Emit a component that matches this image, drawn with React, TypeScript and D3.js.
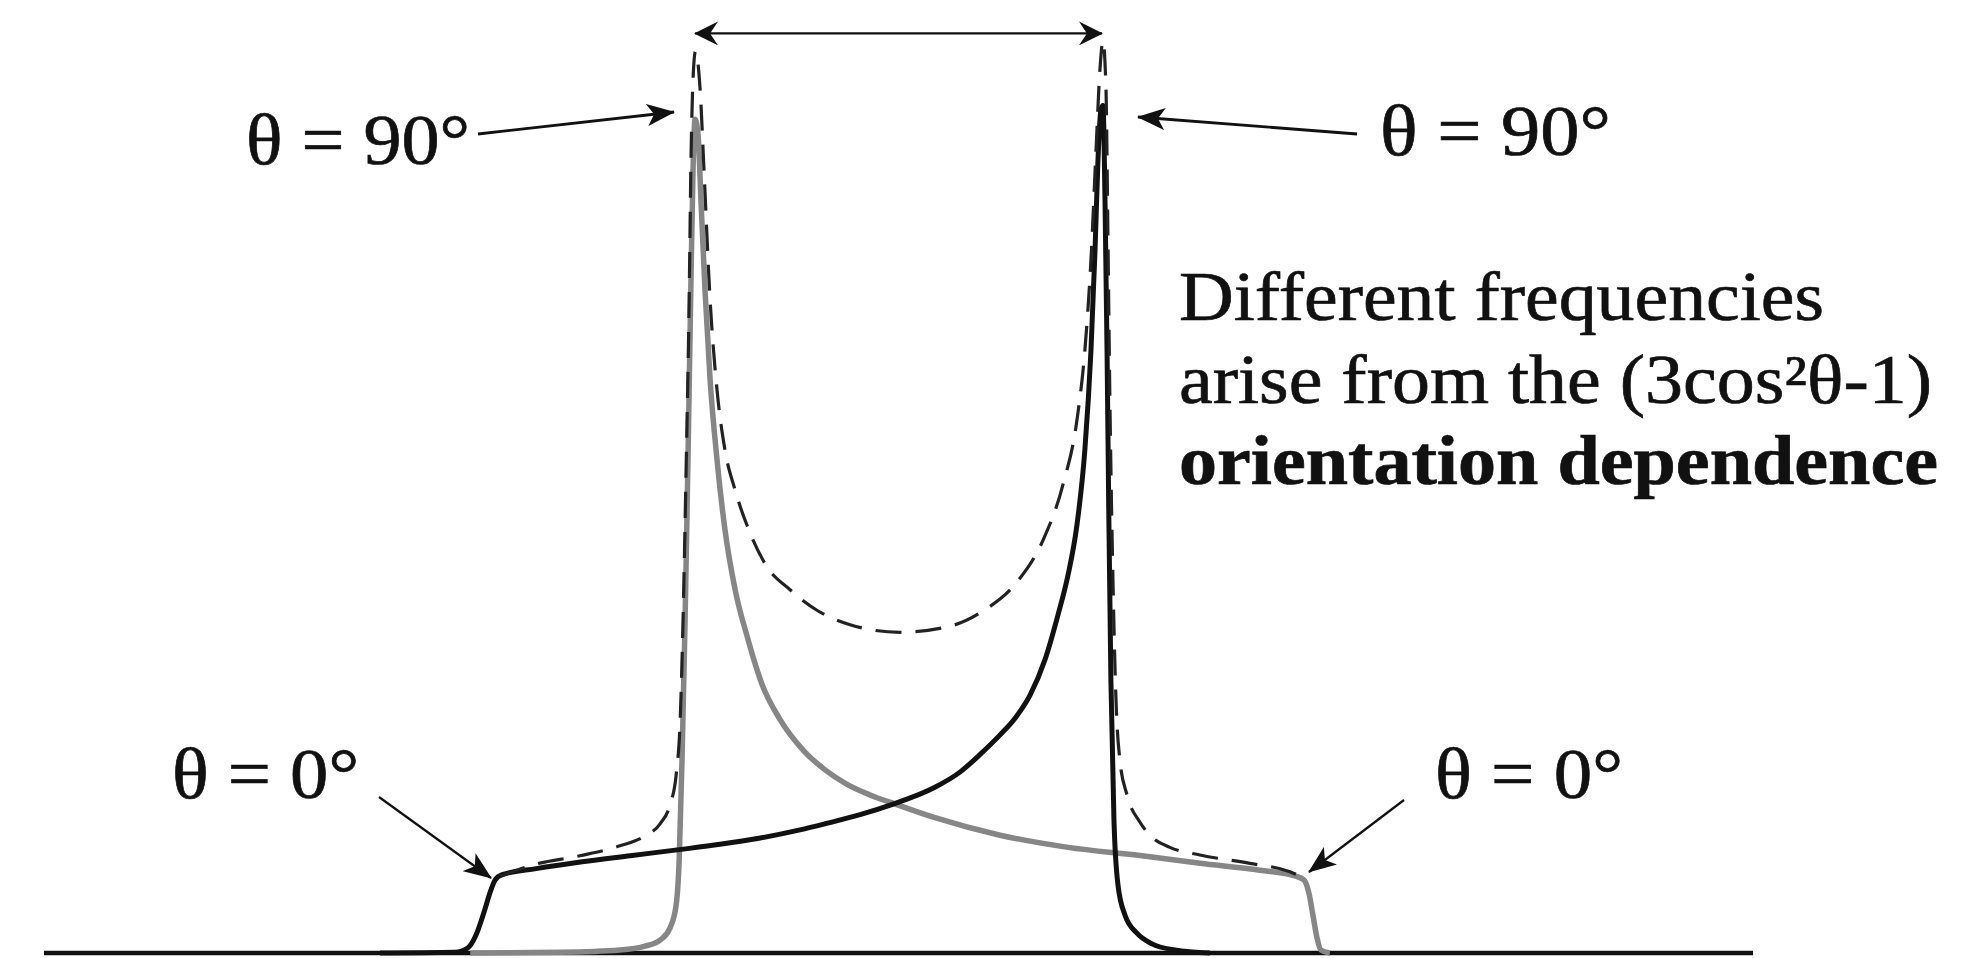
import React from "react";
import * as d3 from "d3";

const W = 1967;
const H = 958;

// Frequency axis: units of the θ = 90° half-splitting (peaks at ±1).
// Intensity: relative to the θ = 0° step height.

// Black powder pattern (θ = 0° edge on the left, θ = 90° horn on the right)
const blackFreq = [-2.548, -2.18, -2.116, -2.076, -2.037, -2.007, -1.983, -1.948, -1.781, -1.555, -1.319, -1.078, -0.877, -0.686, -0.484, -0.361, -0.189, -0.037, 0.179, 0.302, 0.4, 0.499, 0.573, 0.646, 0.72, 0.784, 0.833, 0.877, 0.916, 0.946, 0.966, 0.98, 0.995, 1.005, 1.015, 1.025, 1.034, 1.044, 1.059, 1.079, 1.113, 1.172, 1.246, 1.359, 1.531];
const blackInt = [0, 0.01, 0.07, 0.24, 0.54, 0.8, 0.96, 1.03, 1.11, 1.2, 1.28, 1.36, 1.43, 1.51, 1.62, 1.7, 1.82, 1.95, 2.18, 2.38, 2.61, 2.87, 3.09, 3.39, 3.86, 4.45, 4.97, 5.63, 6.62, 7.93, 9.25, 10.4, 11.1, 11.15, 9.91, 7.93, 5.7, 3.59, 1.75, 0.89, 0.5, 0.26, 0.12, 0.04, 0];

// Grey powder pattern (θ = 90° horn on the left, θ = 0° edge on the right)
const greyFreq = [-2.105, -1.663, -1.369, -1.246, -1.172, -1.123, -1.093, -1.078, -1.064, -1.049, -1.034, -1.02, -1.01, -1.0, -0.985, -0.971, -0.951, -0.926, -0.892, -0.853, -0.803, -0.739, -0.67, -0.582, -0.469, -0.361, -0.253, -0.14, -0.017, 0.179, 0.499, 0.833, 1.197, 1.482, 1.776, 1.953, 1.993, 2.017, 2.037, 2.057, 2.076, 2.12];
const greyInt = [0, 0.01, 0.04, 0.09, 0.17, 0.33, 0.63, 1.22, 2.54, 4.38, 6.62, 8.86, 10.3, 10.97, 10.76, 9.91, 8.72, 7.54, 6.49, 5.57, 4.78, 4.12, 3.53, 3.07, 2.67, 2.41, 2.22, 2.08, 1.96, 1.78, 1.55, 1.39, 1.28, 1.18, 1.09, 1.01, 0.96, 0.79, 0.5, 0.2, 0.04, 0];

// Dashed total spectrum
const sumFreq = [-1.958, -1.781, -1.565, -1.369, -1.246, -1.172, -1.123, -1.093, -1.073, -1.059, -1.044, -1.029, -1.02, -1.01, -0.998, -0.975, -0.956, -0.926, -0.892, -0.853, -0.803, -0.73, -0.646, -0.533, -0.401, -0.238, 0.007, 0.253, 0.415, 0.582, 0.71, 0.808, 0.877, 0.916, 0.946, 0.971, 0.99, 1.005, 1.02, 1.029, 1.039, 1.054, 1.069, 1.088, 1.123, 1.187, 1.236, 1.334, 1.482, 1.727, 1.924, 1.983];
const sumInt = [1.01, 1.17, 1.28, 1.41, 1.54, 1.7, 1.95, 2.34, 3.07, 4.38, 6.36, 8.59, 10.43, 11.49, 11.86, 11.36, 10.3, 8.59, 7.41, 6.62, 6.09, 5.53, 5.08, 4.78, 4.51, 4.32, 4.22, 4.3, 4.5, 4.88, 5.43, 6.16, 7.01, 7.93, 9.12, 10.57, 11.62, 12.0, 11.36, 9.51, 7.28, 4.91, 3.33, 2.54, 2.08, 1.72, 1.55, 1.39, 1.29, 1.18, 1.07, 1.0];

const xDomain = [-4.2, 4.2];
const yDomain = [0, 12.5];
const splitting = [-1, 1];
const splittingLevel = 12.1;

const label90 = "θ = 90°";
const label0 = "θ = 0°";
const noteLines = ["Different frequencies", "arise from the (3cos²θ-1)", "orientation dependence"];

const zip = (xs: number[], ys: number[]) => xs.map((x, i) => [x, ys[i]] as [number, number]);

export default function App() {
  React.useEffect(() => {
    document.body.style.margin = "0";
    document.body.style.overflow = "hidden";
  }, []);

  const x = d3.scaleLinear().domain(xDomain).range([44, 1753]);
  const y = d3.scaleLinear().domain(yDomain).range([953, 3]);
  const line = d3
    .line<[number, number]>()
    .x((d) => x(d[0]))
    .y((d) => y(d[1]))
    .curve(d3.curveMonotoneX);

  const blackPath = line(zip(blackFreq, blackInt)) || "";
  const greyPath = line(zip(greyFreq, greyInt)) || "";
  const sumPath = line(zip(sumFreq, sumInt)) || "";

  const font = "'Liberation Serif', 'Times New Roman', serif";
  const textProps = { fontFamily: font, fill: "#111", stroke: "#111", strokeWidth: 0.7, lengthAdjust: "spacingAndGlyphs" } as const;

  return (
    <svg width={W} height={H} style={{ position: "absolute", left: 0, top: 0, background: "#fff" }}>
      <defs>
        <marker id="ah" viewBox="0 0 28 22" refX="27" refY="11" markerWidth="28" markerHeight="22" markerUnits="userSpaceOnUse" orient="auto-start-reverse">
          <path d="M0,0 L28,11 L0,22 L7,11 Z" fill="#111" />
        </marker>
        <marker id="ah2" viewBox="0 0 24 24" refX="23" refY="12" markerWidth="24" markerHeight="24" markerUnits="userSpaceOnUse" orient="auto-start-reverse">
          <path d="M0,0 L24,12 L0,24 L8,12 Z" fill="#111" />
        </marker>
      </defs>

      {/* baseline */}
      <line x1={x(xDomain[0])} x2={x(xDomain[1])} y1={y(0)} y2={y(0)} stroke="#111" strokeWidth={4.5} />

      <path d={greyPath} fill="none" stroke="#868686" strokeWidth={5.5} strokeLinejoin="round" />
      <path d={blackPath} fill="none" stroke="#111" strokeWidth={5} strokeLinejoin="round" />
      <path d={sumPath} fill="none" stroke="#222" strokeWidth={3.2} strokeDasharray="26 14" />

      {/* splitting double arrow */}
      <line
        x1={x(splitting[0])}
        x2={x(splitting[1])}
        y1={y(splittingLevel)}
        y2={y(splittingLevel)}
        stroke="#111"
        strokeWidth={2.2}
        markerStart="url(#ah2)"
        markerEnd="url(#ah2)"
      />

      {/* θ = 90° labels */}
      <text x={246} y={164} fontSize={72} textLength={224} {...textProps}>{label90}</text>
      <line x1={478} y1={134} x2={674} y2={112} stroke="#111" strokeWidth={2.8} markerEnd="url(#ah)" />
      <text x={1380} y={155} fontSize={72} textLength={231} {...textProps}>{label90}</text>
      <line x1={1357} y1={134} x2={1138} y2={117} stroke="#111" strokeWidth={2.8} markerEnd="url(#ah)" />

      {/* θ = 0° labels */}
      <text x={172} y={798} fontSize={72} textLength={187} {...textProps}>{label0}</text>
      <line x1={379} y1={797} x2={491} y2={878} stroke="#111" strokeWidth={2.2} markerEnd="url(#ah)" />
      <text x={1435} y={798} fontSize={72} textLength={188} {...textProps}>{label0}</text>
      <line x1={1404} y1={800} x2={1309} y2={872} stroke="#111" strokeWidth={2.2} markerEnd="url(#ah)" />

      {/* explanatory note */}
      <text x={1179} y={320} fontSize={70} textLength={645} {...textProps}>{noteLines[0]}</text>
      <text x={1179} y={403} fontSize={70} textLength={753} {...textProps}>{noteLines[1]}</text>
      <text x={1179} y={484} fontSize={70} fontWeight="bold" textLength={759} {...textProps}>{noteLines[2]}</text>
    </svg>
  );
}
